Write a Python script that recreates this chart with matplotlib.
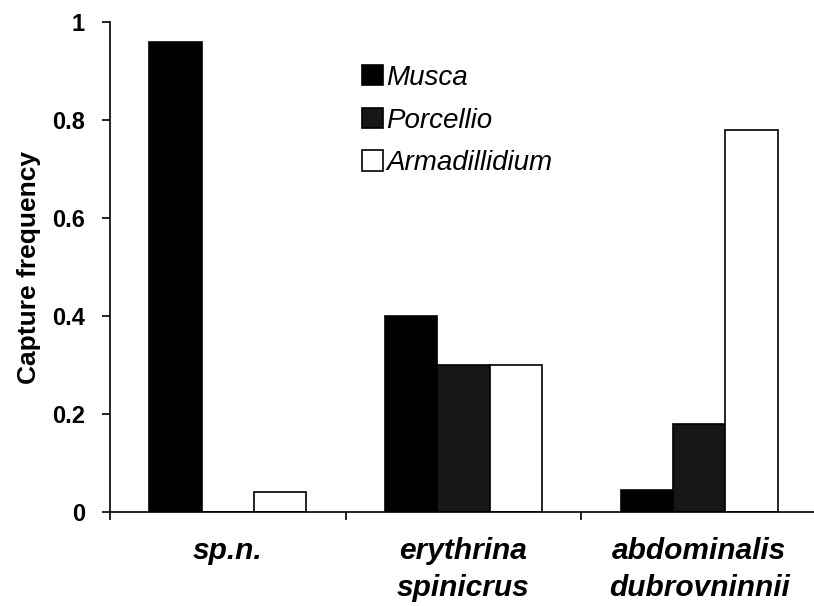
import matplotlib.pyplot as plt
import numpy as np

plt.rcParams['font.family'] = ['Liberation Sans', 'DejaVu Sans']

# data
groups = ['sp.n.', 'erythrina\nspinicrus', 'abdominalis\ndubrovninnii']
series = ['Musca', 'Porcellio', 'Armadillidium']
musca = [0.96, 0.40, 0.045]
porcellio = [0.0, 0.30, 0.18]
armadillidium = [0.04, 0.30, 0.78]
colors = ['#000000', '#161616', '#ffffff']

fig = plt.figure(figsize=(8.14, 6.06), dpi=100)
ax = fig.add_axes([0.1351, 0.1551, 0.8686, 0.8086])

x = np.arange(len(groups)) + 0.5
w = 0.222
for i, (name, vals, c) in enumerate(zip(series, [musca, porcellio, armadillidium], colors)):
    ax.bar(x + (i - 1) * w, vals, width=w, color=c, edgecolor='black',
           linewidth=1.2, label=name)

ax.set_xlim(0, 3)
ax.set_ylim(0, 1)
ax.spines['top'].set_visible(False)
ax.spines['right'].set_visible(False)
ax.spines['left'].set_linewidth(1.2)
ax.spines['bottom'].set_linewidth(1.2)

ax.set_yticks([0, 0.2, 0.4, 0.6, 0.8, 1])
ax.set_yticklabels(['0', '0.2', '0.4', '0.6', '0.8', '1'], fontsize=17, fontweight='bold')
ax.tick_params(axis='y', direction='out', length=6, width=1.2, pad=12)

ax.set_xticks([0, 1, 2, 3])
ax.set_xticklabels([])
ax.tick_params(axis='x', which='major', direction='out', length=6, width=1.2)
ax.set_xticks(x, minor=True)
ax.set_xticklabels(groups, minor=True, fontsize=21.5, fontweight='bold',
                   fontstyle='italic', linespacing=1.4)
ax.tick_params(axis='x', which='minor', length=0, pad=18)

ax.set_ylabel('Capture frequency', fontsize=19, fontweight='bold', labelpad=8)

leg = ax.legend(loc='upper left', bbox_to_anchor=(348 / 814, 1 - 51 / 606),
                bbox_transform=fig.transFigure, frameon=False, borderpad=0,
                handlelength=0.75, handleheight=0.75, handletextpad=0.12,
                labelspacing=0.6, prop={'size': 20, 'style': 'italic'})

fig.savefig('out.png', dpi=100)
